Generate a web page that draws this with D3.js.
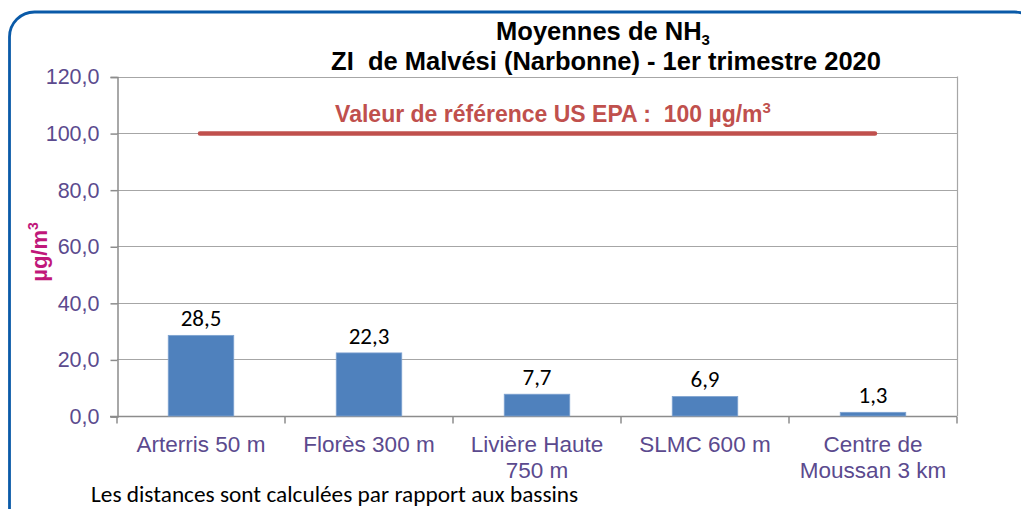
<!DOCTYPE html>
<html>
<head>
<meta charset="UTF-8">
<title>Moyennes de NH3</title>
<script src="https://d3js.org/d3.v7.min.js"></script>
<style>
  body { margin: 0; background: #fff; }
  svg { display: block; }
</style>
</head>
<body>
<div id="chart"></div>
<script>
// data
var categories = [["Arterris 50 m"], ["Florès 300 m"], ["Livière Haute", "750 m"], ["SLMC 600 m"], ["Centre de", "Moussan 3 km"]];
var values = [28.5, 22.3, 7.7, 6.9, 1.3];
var yTicks = [0, 20, 40, 60, 80, 100, 120];
var referenceValue = 100;

var W = 1021, H = 509;
var plotLeft = 117, plotRight = 957, plotTop = 76.5, plotBottom = 416;
var arial = "'Liberation Sans', Arial, sans-serif";
var calibri = "Carlito, Lato, sans-serif";

var svg = d3.select("#chart").append("svg")
    .attr("width", W)
    .attr("height", H);

// rounded frame
svg.append("rect")
    .attr("x", 9.5).attr("y", 12)
    .attr("width", 1030).attr("height", 540)
    .attr("rx", 25).attr("ry", 25)
    .attr("fill", "none")
    .attr("stroke", "#0a5aa8")
    .attr("stroke-width", 2.8);

var x = d3.scaleBand()
    .domain(d3.range(values.length))
    .range([plotLeft, plotRight])
    .paddingInner(0.61)
    .paddingOuter(0.305);

var xBand = d3.scaleBand()
    .domain(d3.range(values.length))
    .range([plotLeft, plotRight]);

var y = d3.scaleLinear()
    .domain([0, 120])
    .range([plotBottom, plotTop]);

// gridlines
svg.append("g")
    .selectAll("line")
    .data(yTicks)
    .join("line")
      .attr("x1", plotLeft).attr("x2", plotRight)
      .attr("y1", function(d){ return Math.round(y(d)) + 0.5; })
      .attr("y2", function(d){ return Math.round(y(d)) + 0.5; })
      .attr("stroke", "#a6a6a6")
      .attr("stroke-width", 1.2);

// right border of plot
svg.append("line")
    .attr("x1", plotRight + 0.5).attr("x2", plotRight + 0.5)
    .attr("y1", y(120)).attr("y2", y(0))
    .attr("stroke", "#a6a6a6").attr("stroke-width", 1.2);

// y axis
var yAxis = d3.axisLeft(y)
    .tickValues(yTicks)
    .tickSize(7)
    .tickPadding(11)
    .tickFormat(function(d){ return d3.format(".1f")(d).replace(".", ","); });

var gy = svg.append("g")
    .attr("transform", "translate(" + (plotLeft + 0.5) + ",0.5)")
    .call(yAxis);
gy.select(".domain").attr("stroke", "#8c8c8c").attr("stroke-width", 1.5);
gy.selectAll(".tick line").attr("stroke", "#8c8c8c").attr("stroke-width", 1.5);
gy.selectAll(".tick text")
    .attr("fill", "#5b4a8e")
    .attr("font-family", arial)
    .attr("font-size", "21.5px");

// x axis line and category ticks
var gx = svg.append("g")
    .attr("transform", "translate(0," + (plotBottom + 0.5) + ")");
gx.append("line")
    .attr("x1", plotLeft - 7).attr("x2", plotRight)
    .attr("stroke", "#8c8c8c").attr("stroke-width", 1.5);
gx.selectAll(".ct")
    .data(d3.range(values.length + 1))
    .join("line")
      .attr("class", "ct")
      .attr("x1", function(i){ return i < values.length ? xBand(i) : plotRight; })
      .attr("x2", function(i){ return i < values.length ? xBand(i) : plotRight; })
      .attr("y1", 0).attr("y2", 7)
      .attr("stroke", "#8c8c8c").attr("stroke-width", 1.5);

// category labels
var labels = svg.append("g").selectAll("text")
    .data(categories)
    .join("text")
      .attr("text-anchor", "middle")
      .attr("fill", "#5b4a8e")
      .attr("font-family", arial)
      .attr("font-size", "22.5px");
labels.each(function(lines, i){
    var t = d3.select(this);
    lines.forEach(function(s, k){
        t.append("tspan")
            .attr("x", xBand(i) + xBand.bandwidth() / 2)
            .attr("y", 452 + k * 25.5)
            .text(s);
    });
});

// bars
svg.append("g").selectAll("rect")
    .data(values)
    .join("rect")
      .attr("x", function(d, i){ return x(i); })
      .attr("y", function(d){ return y(d); })
      .attr("width", x.bandwidth())
      .attr("height", function(d){ return y(0) - y(d); })
      .attr("fill", "#4f81bd")
      .attr("stroke", "#7fa3d0")
      .attr("stroke-width", 0.8);

// value labels
svg.append("g").selectAll("text")
    .data(values)
    .join("text")
      .attr("x", function(d, i){ return x(i) + x.bandwidth() / 2; })
      .attr("y", function(d){ return y(d) - 9; })
      .attr("text-anchor", "middle")
      .attr("fill", "#000")
      .attr("font-family", calibri)
      .attr("font-size", "23px")
      .text(function(d){ return d3.format(".1f")(d).replace(".", ","); });

// reference line
svg.append("line")
    .attr("x1", 200).attr("x2", 875)
    .attr("y1", y(referenceValue) + 0.5).attr("y2", y(referenceValue) + 0.5)
    .attr("stroke", "#c0504d")
    .attr("stroke-width", 4.5)
    .attr("stroke-linecap", "round");

var ref = svg.append("text")
    .attr("x", 553).attr("y", 122)
    .attr("text-anchor", "middle")
    .attr("fill", "#c0504d")
    .attr("font-family", arial)
    .attr("font-weight", "bold")
    .attr("font-size", "23px")
    .style("white-space", "pre");
ref.append("tspan").text("Valeur de référence US EPA :  100 µg/m");
ref.append("tspan").attr("dy", -9).attr("font-size", "15px").text("3");

// title
var t1 = svg.append("text")
    .attr("x", 603).attr("y", 40)
    .attr("text-anchor", "middle")
    .attr("font-family", arial)
    .attr("font-weight", "bold")
    .attr("font-size", "25.5px")
    .attr("fill", "#000");
t1.append("tspan").text("Moyennes de NH");
t1.append("tspan").attr("dy", 5).attr("font-size", "15px").text("3");

svg.append("text")
    .attr("x", 606).attr("y", 70)
    .attr("text-anchor", "middle")
    .attr("font-family", arial)
    .attr("font-weight", "bold")
    .attr("font-size", "25.5px")
    .attr("fill", "#000")
    .style("white-space", "pre")
    .text("ZI  de Malvési (Narbonne) - 1er trimestre 2020");

// y axis title
var yt = svg.append("text")
    .attr("transform", "translate(47,252) rotate(-90)")
    .attr("text-anchor", "middle")
    .attr("font-family", arial)
    .attr("font-weight", "bold")
    .attr("font-size", "22px")
    .attr("fill", "#c0177a");
yt.append("tspan").text("µg/m");
yt.append("tspan").attr("dy", -9).attr("font-size", "14px").text("3");

// footnote
svg.append("text")
    .attr("x", 91).attr("y", 502)
    .attr("font-family", calibri)
    .attr("font-size", "23.3px")
    .attr("fill", "#000")
    .text("Les distances sont calculées par rapport aux bassins");
</script>
</body>
</html>
